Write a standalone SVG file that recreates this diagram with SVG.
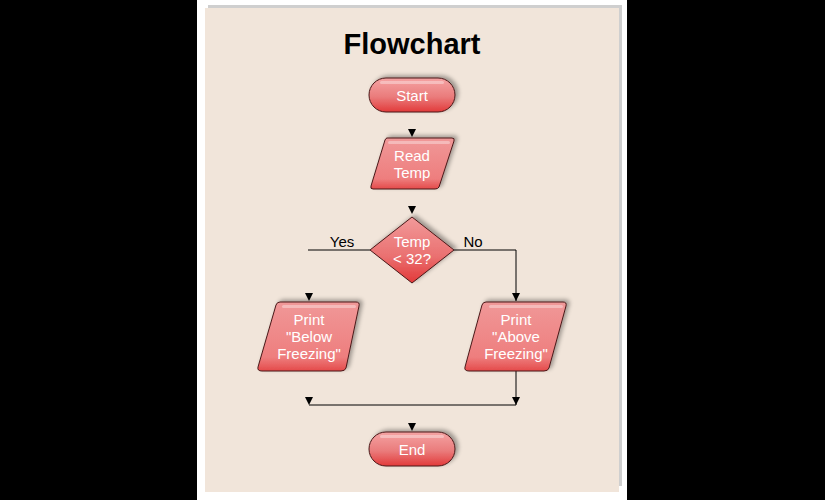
<svg xmlns="http://www.w3.org/2000/svg" width="825" height="500" viewBox="0 0 825 500">
  <defs>
    <linearGradient id="pill" x1="0" y1="0" x2="0" y2="1">
      <stop offset="0" stop-color="#f5a3a3"/>
      <stop offset="0.55" stop-color="#ea7c7c"/>
      <stop offset="1" stop-color="#e23a3a"/>
    </linearGradient>
    <linearGradient id="para" x1="0" y1="0" x2="0" y2="1">
      <stop offset="0" stop-color="#f09898"/>
      <stop offset="0.8" stop-color="#ee7e7e"/>
      <stop offset="1" stop-color="#e44a4a"/>
    </linearGradient>
    <linearGradient id="dia" x1="0" y1="0" x2="0" y2="1">
      <stop offset="0" stop-color="#f29a9a"/>
      <stop offset="0.6" stop-color="#ea7070"/>
      <stop offset="1" stop-color="#e23838"/>
    </linearGradient>
    <filter id="shadow" x="-20%" y="-30%" width="140%" height="160%">
      <feGaussianBlur in="SourceAlpha" stdDeviation="2"/>
      <feOffset dx="3" dy="-2" result="b"/>
      <feComponentTransfer><feFuncA type="linear" slope="0.35"/></feComponentTransfer>
      <feMerge><feMergeNode/><feMergeNode in="SourceGraphic"/></feMerge>
    </filter>
  </defs>
  <style>
    .lbl { font-family: "Liberation Sans", Arial, sans-serif; font-size: 15px; fill: #ffffff; text-anchor: middle; }
    .edge { font-family: "Liberation Sans", Arial, sans-serif; font-size: 15px; fill: #000; text-anchor: middle; }
    .shape { stroke: #4a1818; stroke-width: 1; filter: url(#shadow); }
    .hi { fill: #ffffff; opacity: 0.35; }
    .line { stroke: #000; stroke-width: 1; fill: none; }
    .tri { fill: #000; }
  </style>

  <!-- page -->
  <rect x="0" y="0" width="825" height="500" fill="#000"/>
  <rect x="197" y="0" width="430" height="500" fill="#fff"/>
  <rect x="208" y="5" width="414" height="481" fill="#cfcfcf"/>
  <rect x="205" y="8" width="414" height="484" fill="#f1e5da"/>

  <text x="412" y="54" font-family="Liberation Sans, Arial, sans-serif" font-size="29" font-weight="bold" text-anchor="middle" fill="#000">Flowchart</text>

  <!-- connectors -->
  <g id="connectors">
    <path class="line" d="M370,250 H308"/>
    <path class="line" d="M454,250 H516 V301"/>
    <path class="line" d="M516,371 V405"/>
    <path class="line" d="M309,405 H516"/>
    <polygon class="tri" points="408,129 416,129 412,137"/>
    <polygon class="tri" points="408,206 416,206 412,214"/>
    <polygon class="tri" points="305,293 313,293 309,301"/>
    <polygon class="tri" points="512,293 520,293 516,301"/>
    <polygon class="tri" points="305,397 313,397 309,405"/>
    <polygon class="tri" points="512,397 520,397 516,405"/>
    <polygon class="tri" points="408,423 416,423 412,431"/>
  </g>

  <g id="start">
    <rect class="shape" x="369" y="78" width="86" height="34" rx="17" fill="url(#pill)"/>
    <rect class="hi" x="380" y="81" width="64" height="3" rx="1.5"/>
    <text class="lbl" x="412" y="101">Start</text>
  </g>

  <g id="read">
    <path class="shape" d="M387,138 H452 Q455,138 454,141 L439,187 Q438,189 435,189 H373 Q370,189 371,186 L385,140 Q386,138 387,138 Z" fill="url(#para)"/>
    <rect class="hi" x="388" y="141" width="62" height="3" rx="1.5"/>
    <text class="lbl" x="412" y="161">Read</text>
    <text class="lbl" x="412" y="178">Temp</text>
  </g>

  <g id="decision">
    <path class="shape" d="M412,217 L454,250 L412,283 L370,250 Z" fill="url(#dia)" stroke-linejoin="round"/>
    <text class="lbl" x="412" y="247">Temp</text>
    <text class="lbl" x="412" y="264">&lt; 32?</text>
  </g>
  <text class="edge" x="342" y="247">Yes</text>
  <text class="edge" x="473" y="247">No</text>

  <g id="below">
    <path class="shape" d="M280,302 H356 Q360,302 359,306 L346,368 Q345,371 341,371 H262 Q257,371 258,367 L276,305 Q277,302 280,302 Z" fill="url(#para)"/>
    <rect class="hi" x="282" y="305" width="74" height="3" rx="1.5"/>
    <text class="lbl" x="309" y="325">Print</text>
    <text class="lbl" x="309" y="342">"Below</text>
    <text class="lbl" x="309" y="359">Freezing"</text>
  </g>

  <g id="above">
    <path class="shape" d="M486,302 H563 Q567,302 566,306 L549,368 Q548,371 544,371 H469 Q464,371 465,367 L482,305 Q483,302 486,302 Z" fill="url(#para)"/>
    <rect class="hi" x="489" y="305" width="74" height="3" rx="1.5"/>
    <text class="lbl" x="516" y="325">Print</text>
    <text class="lbl" x="516" y="342">"Above</text>
    <text class="lbl" x="516" y="359">Freezing"</text>
  </g>

  <g id="end">
    <rect class="shape" x="369" y="432" width="86" height="34" rx="17" fill="url(#pill)"/>
    <rect class="hi" x="380" y="435" width="64" height="3" rx="1.5"/>
    <text class="lbl" x="412" y="455">End</text>
  </g>
</svg>
